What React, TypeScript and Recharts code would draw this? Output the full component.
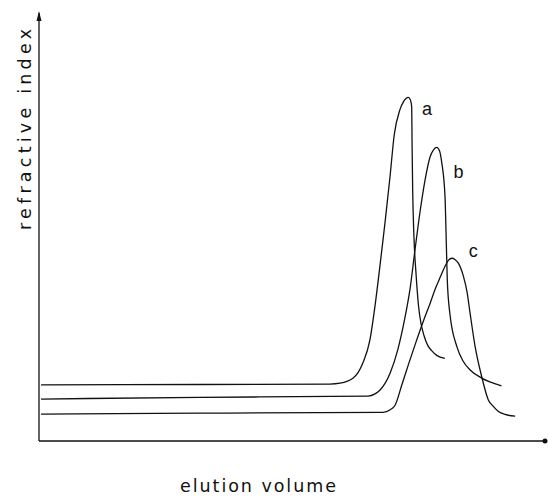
import React from 'react';
import { LineChart, Line, XAxis, YAxis, ReferenceDot } from 'recharts';

// elution volume (arbitrary units, 0-100) and refractive index response (0-100)
const curveAx = [0.4, 31.8, 57.5, 59.5, 62.1, 64.0, 65.4, 66.4, 67.4, 68.4, 69.4, 70.2, 71.3, 72.1, 73.0, 73.4, 73.66, 73.72, 73.85, 74.1, 74.5, 75.0, 75.5, 76.1, 76.8, 77.6, 78.6, 80.2];
const curveAy = [13.1, 13.2, 13.3, 13.5, 14.7, 18.2, 23.6, 31.5, 41.1, 51.2, 62.1, 71.5, 77.3, 79.4, 80.3, 79.7, 78.0, 70.3, 58.6, 47.7, 39.3, 31.6, 27.4, 24.6, 22.4, 21.1, 20.0, 19.3];

const curveBx = [0.4, 31.8, 65.0, 66.4, 67.4, 69.4, 70.9, 72.3, 73.3, 74.3, 75.3, 76.3, 77.3, 78.0, 78.6, 79.15, 79.6, 80.24, 80.43, 80.57, 80.69, 81.2, 82.6, 83.8, 85.2, 87.5, 89.1, 91.4];
const curveBy = [9.8, 10.2, 10.5, 11.0, 11.9, 15.9, 21.3, 28.7, 35.3, 44.6, 53.5, 61.0, 66.4, 68.1, 68.6, 67.8, 65.0, 57.1, 49.3, 42.8, 37.6, 29.8, 22.0, 18.7, 16.6, 14.7, 13.8, 12.9];

const curveCx = [0.4, 31.8, 68.0, 69.4, 70.4, 71.7, 73.1, 74.5, 75.9, 77.3, 78.3, 79.3, 80.2, 80.9, 81.6, 82.2, 82.9, 83.9, 84.6, 85.2, 86.2, 87.5, 88.8, 89.7, 90.8, 92.1, 94.1];
const curveCy = [6.3, 6.5, 6.7, 7.3, 8.4, 13.1, 18.2, 23.1, 27.8, 32.2, 35.5, 38.3, 40.7, 42.2, 42.7, 42.4, 41.5, 38.4, 34.8, 29.8, 22.0, 15.0, 9.6, 8.2, 6.9, 6.2, 5.8];

const curveNames = ['a', 'b', 'c'];
const labelX = [76.7, 82.9, 85.8];
const labelY = [77.6, 62.9, 44.6];

const xTitle = 'elution volume';
const yTitle = 'refractive index';

const toPoints = (xs: number[], ys: number[]) => xs.map((x, i) => ({ x, y: ys[i] }));
const series = [
  toPoints(curveAx, curveAy),
  toPoints(curveBx, curveBy),
  toPoints(curveCx, curveCy),
];

const INK = '#111';
const FONT = '"DejaVu Sans", "Liberation Sans", Arial, sans-serif';
const LABEL_FONT = '"Liberation Sans", Arial, Helvetica, sans-serif';

const XTitle = (props: any) => {
  const vb = props.viewBox || { x: 0, y: 0 };
  return (
    <text
      x={vb.x + 141}
      y={vb.y + 51}
      fontFamily={FONT}
      fontSize={17.5}
      fill={INK}
      textLength={156}
      lengthAdjust="spacing"
    >
      {xTitle}
    </text>
  );
};

const YTitle = (props: any) => {
  const vb = props.viewBox || { x: 0, y: 0, width: 0, height: 0 };
  const x = vb.x + 31;
  const y = vb.y + 217;
  return (
    <text
      x={x}
      y={y}
      transform={`rotate(-90, ${x}, ${y})`}
      fontFamily={FONT}
      fontSize={17.5}
      fill={INK}
      textLength={201}
      lengthAdjust="spacing"
    >
      {yTitle}
    </text>
  );
};

const ArrowHead = (props: any) => {
  const { cx, cy } = props;
  if (cx == null || cy == null) return null;
  return <polygon points={`${cx},${cy - 2} ${cx - 2.5},${cy + 8} ${cx + 2.5},${cy + 8}`} fill={INK} />;
};

export default function App() {
  return (
    <div style={{ position: 'absolute', left: 0, top: 0, width: 548, height: 497, background: '#fff' }}>
      <LineChart width={548} height={497} margin={{ top: 13, right: 3, bottom: 0, left: 0 }}>
        <XAxis
          type="number"
          dataKey="x"
          domain={[0, 100]}
          height={56}
          tick={false}
          tickLine={false}
          axisLine={{ stroke: INK, strokeWidth: 1.3 }}
          label={<XTitle />}
        />
        <YAxis
          type="number"
          dataKey="y"
          domain={[0, 100]}
          width={39}
          tick={false}
          tickLine={false}
          axisLine={{ stroke: INK, strokeWidth: 1.3 }}
          label={<YTitle />}
        />
        {series.map((data, i) => (
          <Line
            key={curveNames[i]}
            data={data}
            dataKey="y"
            type="monotone"
            stroke={INK}
            strokeWidth={1.3}
            dot={false}
            activeDot={false}
            isAnimationActive={false}
          />
        ))}
        {curveNames.map((name, i) => (
          <ReferenceDot
            key={'lbl' + name}
            x={labelX[i]}
            y={labelY[i]}
            r={0}
            fill="none"
            stroke="none"
            label={{ value: name, position: 'center', fontSize: 18, fill: INK, fontFamily: LABEL_FONT }}
          />
        ))}
        <ReferenceDot x={0} y={100} r={3} shape={<ArrowHead />} />
        <ReferenceDot x={100} y={0} r={2.5} fill={INK} stroke="none" />
      </LineChart>
    </div>
  );
}
